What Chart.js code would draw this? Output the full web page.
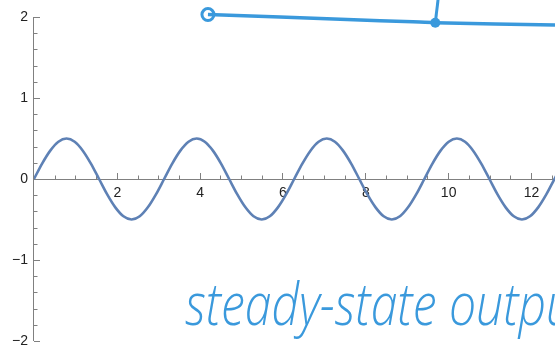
<!DOCTYPE html>
<html>
<head>
<meta charset="utf-8">
<script src="https://cdn.jsdelivr.net/npm/chart.js@4.4.1/dist/chart.umd.min.js"></script>
<style>
  html, body { margin: 0; padding: 0; background: #fff; }
  #wrap { width: 555px; height: 351px; }
</style>
</head>
<body>
<div id="wrap"><canvas id="plot"></canvas></div>
<script>
// response samples (t, y)
const waveT = [0, 0.196, 0.393, 0.589, 0.785, 0.982, 1.178, 1.374, 1.571, 1.767, 1.963, 2.160, 2.356, 2.553, 2.749, 2.945,
               3.142, 3.338, 3.534, 3.731, 3.927, 4.123, 4.320, 4.516, 4.712, 4.909, 5.105, 5.301, 5.498, 5.694, 5.890, 6.087,
               6.283, 6.480, 6.676, 6.872, 7.069, 7.265, 7.461, 7.658, 7.854, 8.050, 8.247, 8.443, 8.639, 8.836, 9.032, 9.228,
               9.425, 9.621, 9.817, 10.014, 10.210, 10.407, 10.603, 10.799, 10.996, 11.192, 11.388, 11.585, 11.781, 11.977,
               12.174, 12.370, 12.566, 12.763];
const waveY = [0, 0.19, 0.35, 0.46, 0.5, 0.46, 0.35, 0.19, 0, -0.19, -0.35, -0.46, -0.5, -0.46, -0.35, -0.19,
               0, 0.19, 0.35, 0.46, 0.5, 0.46, 0.35, 0.19, 0, -0.19, -0.35, -0.46, -0.5, -0.46, -0.35, -0.19,
               0, 0.19, 0.35, 0.46, 0.5, 0.46, 0.35, 0.19, 0, -0.19, -0.35, -0.46, -0.5, -0.46, -0.35, -0.19,
               0, 0.19, 0.35, 0.46, 0.5, 0.46, 0.35, 0.19, 0, -0.19, -0.35, -0.46, -0.5, -0.46, -0.35, -0.19,
               0, 0.19];

// hand-drawn marker line along the top
const penT = [4.20, 5.94, 7.56, 9.15, 9.69, 12.58];
const penY = [2.03, 2.00, 1.97, 1.94, 1.93, 1.90];
const tickT = [9.69, 9.76];
const tickY = [1.93, 2.23];

const xMajor = [2, 4, 6, 8, 10, 12];
const yMajor = [-2, -1, 0, 1, 2];
const note = 'steady-state output';

const penBlue = '#3a99dc';
const axisGray = '#808080';

const toPts = (xs, ys) => xs.map((x, i) => ({ x: x, y: ys[i] }));
const isMajor = (v, list) => list.some(m => Math.abs(m - v) < 1e-6);
const fmt = v => (v < 0 ? '\u2212' + Math.abs(v) : String(v));

// Mathematica-style axes through the origin, ticks drawn on one side
const axesPlugin = {
    id: 'axes',
    beforeDatasetsDraw(chart) {
        const { ctx, scales: { x, y } } = chart;
        const x0 = x.getPixelForValue(0);
        const y0 = Math.round(y.getPixelForValue(0));
        ctx.save();
        ctx.strokeStyle = axisGray;
        ctx.lineWidth = 1;
        ctx.beginPath();
        ctx.moveTo(x0 - 0.5, y.getPixelForValue(2));
        ctx.lineTo(x0 - 0.5, y.getPixelForValue(-2));
        ctx.moveTo(x0, y0 + 0.5);
        ctx.lineTo(chart.width, y0 + 0.5);
        for (let i = -10; i <= 10; i++) {
            const v = i / 5;
            const py = Math.round(y.getPixelForValue(v)) + 0.5;
            const len = isMajor(v, yMajor) ? 6 : 3.5;
            ctx.moveTo(x0, py);
            ctx.lineTo(x0 + len, py);
        }
        for (let i = 1; i <= 25; i++) {
            const v = i / 2;
            const px = Math.round(x.getPixelForValue(v)) + 0.5;
            const len = isMajor(v, xMajor) ? 6 : 3.5;
            ctx.moveTo(px, y0);
            ctx.lineTo(px, y0 - len);
        }
        ctx.stroke();

        ctx.fillStyle = '#222';
        ctx.font = '14px "Liberation Sans"';
        ctx.textAlign = 'center';
        ctx.textBaseline = 'top';
        xMajor.forEach(v => ctx.fillText(fmt(v), x.getPixelForValue(v) + 0.5, y0 + 7));
        ctx.textAlign = 'right';
        ctx.textBaseline = 'middle';
        yMajor.forEach(v => ctx.fillText(fmt(v), x0 - 6, y.getPixelForValue(v)));
        ctx.restore();
    },
    afterDraw(chart) {
        const { ctx, scales: { x, y } } = chart;
        ctx.save();
        ctx.fillStyle = penBlue;
        ctx.font = 'italic 300 58px "Open Sans"';
        ctx.translate(x.getPixelForValue(3.65), y.getPixelForValue(-1.80));
        ctx.scale(0.83, 1);
        ctx.fillText(note, 0, 0);
        ctx.restore();
    }
};

new Chart(document.getElementById('plot'), {
    type: 'line',
    data: {
        datasets: [{
            data: toPts(waveT, waveY),
            borderColor: '#5e81b5',
            borderWidth: 2.6,
            pointRadius: 0,
            cubicInterpolationMode: 'monotone'
        }, {
            data: toPts(penT, penY),
            borderColor: penBlue,
            backgroundColor: penBlue,
            borderWidth: 3.5,
            pointRadius: [6, 0, 0, 0, 5, 0],
            pointBorderWidth: [3, 0, 0, 0, 0, 0],
            pointBackgroundColor: ['rgba(0,0,0,0)', penBlue, penBlue, penBlue, penBlue, penBlue],
            tension: 0.3,
            clip: false
        }, {
            data: toPts(tickT, tickY),
            borderColor: penBlue,
            borderWidth: 3,
            pointRadius: 0,
            clip: false
        }]
    },
    options: {
        responsive: true,
        maintainAspectRatio: false,
        animation: false,
        layout: { autoPadding: false, padding: { top: 17, right: 0, bottom: 10, left: 34 } },
        plugins: { legend: { display: false }, tooltip: { enabled: false } },
        scales: {
            x: {
                type: 'linear',
                min: 0,
                max: 12.58,
                display: false
            },
            y: {
                type: 'linear',
                min: -2,
                max: 2,
                display: false
            }
        }
    },
    plugins: [axesPlugin]
});
</script>
</body>
</html>
